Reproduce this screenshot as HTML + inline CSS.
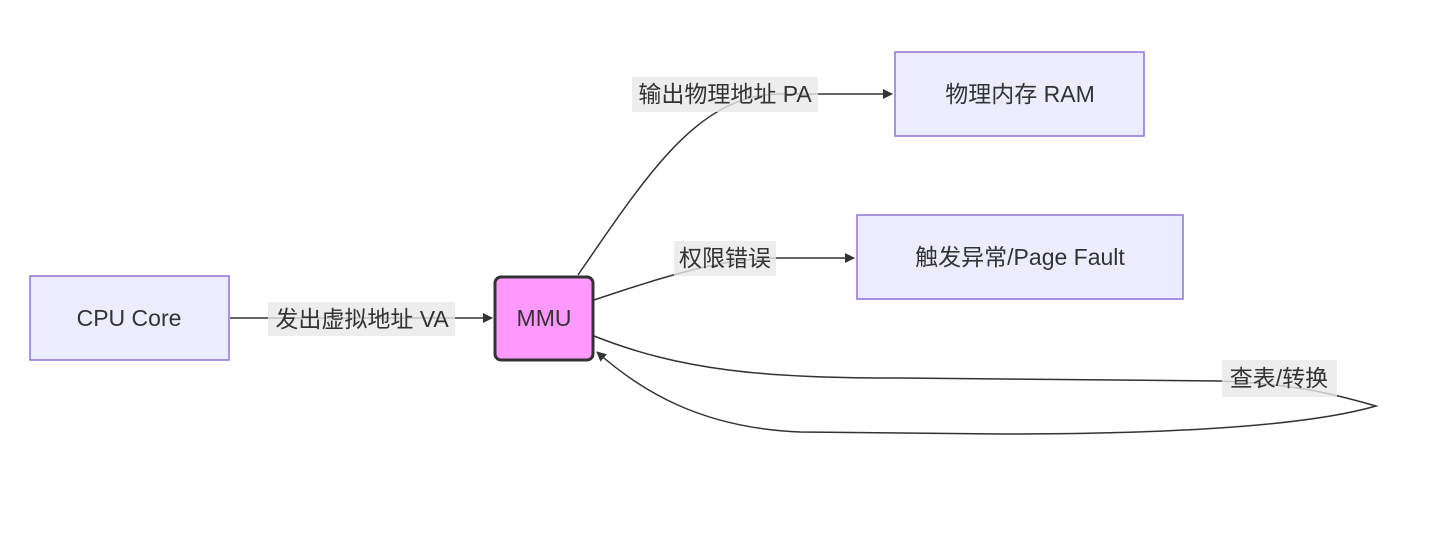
<!DOCTYPE html>
<html><head><meta charset="utf-8"><style>
html,body{margin:0;padding:0;background:#fff;}
svg{display:block}
text{font-family:"Liberation Sans","Noto Sans CJK SC",sans-serif;font-size:23px;fill:#333;}
</style></head><body>
<svg width="1434" height="537" viewBox="0 0 1434 537" xmlns="http://www.w3.org/2000/svg">
<defs><marker id="a" markerWidth="10" markerHeight="10" refX="9" refY="5" orient="auto" markerUnits="userSpaceOnUse"><path d="M0,0 L10,5 L0,10 z" fill="#333"/></marker></defs>
<g fill="none" stroke="#333" stroke-width="1.5">
<path d="M230,318 L492,318" marker-end="url(#a)"/>
<path d="M578,275 C650,170 700,94 780,94 L892,94" marker-end="url(#a)"/>
<path d="M594,300 C660,278 720,258 780,258 L854,258" marker-end="url(#a)"/>
<path d="M594,336 C680,370 760,378 900,378 L1220,381 C1300,384 1340,396 1376,406 C1300,428 1150,434 1000,434 L800,432 C700,428 640,390 597,352" marker-end="url(#a)"/>
</g>
<rect x="268" y="302" width="187" height="34" fill="#e8e8e8" fill-opacity="0.8"/>
<text x="362" y="327" text-anchor="middle">发出虚拟地址 VA</text>
<rect x="632" y="77" width="186" height="35" fill="#e8e8e8" fill-opacity="0.8"/>
<text x="725" y="102" text-anchor="middle">输出物理地址 PA</text>
<rect x="674" y="241" width="102" height="35" fill="#e8e8e8" fill-opacity="0.8"/>
<text x="725" y="266" text-anchor="middle">权限错误</text>
<rect x="1222" y="360" width="115" height="37" fill="#e8e8e8" fill-opacity="0.8"/>
<text x="1279" y="386" text-anchor="middle">查表/转换</text>
<rect x="30" y="276" width="199" height="84" fill="#ececff" stroke="#9370db" stroke-width="1.5"/>
<text x="129" y="326" text-anchor="middle">CPU Core</text>
<rect x="495" y="277" width="98" height="83" rx="6" fill="#ff99ff" stroke="#333" stroke-width="3"/>
<text x="544" y="326" text-anchor="middle">MMU</text>
<rect x="895" y="52" width="249" height="84" fill="#ececff" stroke="#9370db" stroke-width="1.5"/>
<text x="1020" y="102" text-anchor="middle">物理内存 RAM</text>
<rect x="857" y="215" width="326" height="84" fill="#ececff" stroke="#9370db" stroke-width="1.5"/>
<text x="1020" y="265" text-anchor="middle">触发异常/Page Fault</text>
</svg>
</body></html>
